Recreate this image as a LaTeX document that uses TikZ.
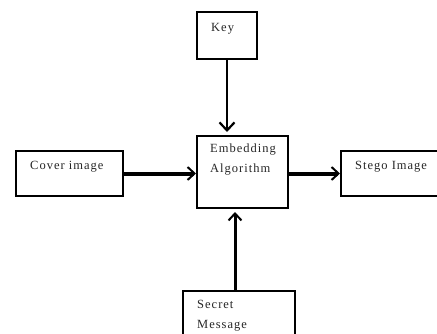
\documentclass[tikz,border=0pt]{standalone}
\usepackage{fontspec}
\setmainfont{Liberation Serif}[LetterSpace=8]
\usetikzlibrary{arrows.meta,calc}
\begin{document}
\begin{tikzpicture}[x=1pt,y=1pt,
  box/.style={draw=black,line width=2pt,inner sep=0pt},
  lbl/.style={anchor=west,inner sep=0pt,align=left,text=black!85,font=\fontsize{12.5}{20}\selectfont},
  thin arrow/.style={line width=1.8pt,-{Straight Barb[length=8pt,width=15pt,line width=2.2pt]}},
  thick arrow/.style={line width=4pt,-{Straight Barb[length=7pt,width=13pt,line width=2pt]}},
  mid arrow/.style={line width=3pt,-{Straight Barb[length=7pt,width=13pt,line width=2pt]}}]
\useasboundingbox (0,0) rectangle (437,333);
\node[box,minimum width=60pt,minimum height=47pt] (key) at (227,297.5) {};
\node[box,minimum width=91pt,minimum height=72pt] (embed) at (242.5,161) {};
\node[box,minimum width=107pt,minimum height=45pt] (cover) at (69.5,159.5) {};
\node[box,minimum width=100pt,minimum height=45pt] (stego) at (391,159.5) {};
\node[box,minimum width=112pt,minimum height=50pt] (secret) at (239,17) {};
\node[lbl] (keyt) at (211,304) {Key};
\node[lbl] (embedt) at (210,173) {Embedding\\Algorithm};
\node[lbl] (covert) at (30,166) {Cover image};
\node[lbl] (stegot) at (355,166) {Stego Image};
\node[lbl] (secrett) at (197,17.5) {Secret\\Message};
\draw[thin arrow,shorten >=3pt] (key.south) -- (key.south |- embed.north);
\draw[thick arrow] (cover.east) -- (cover.east -| embed.west);
\draw[thick arrow] (embed.east |- stego.west) -- (stego.west);
\draw[mid arrow,shorten >=3pt] ([xshift=-4pt]secret.north) -- ([xshift=-4pt]secret.north |- embed.south);
\end{tikzpicture}
\end{document}
